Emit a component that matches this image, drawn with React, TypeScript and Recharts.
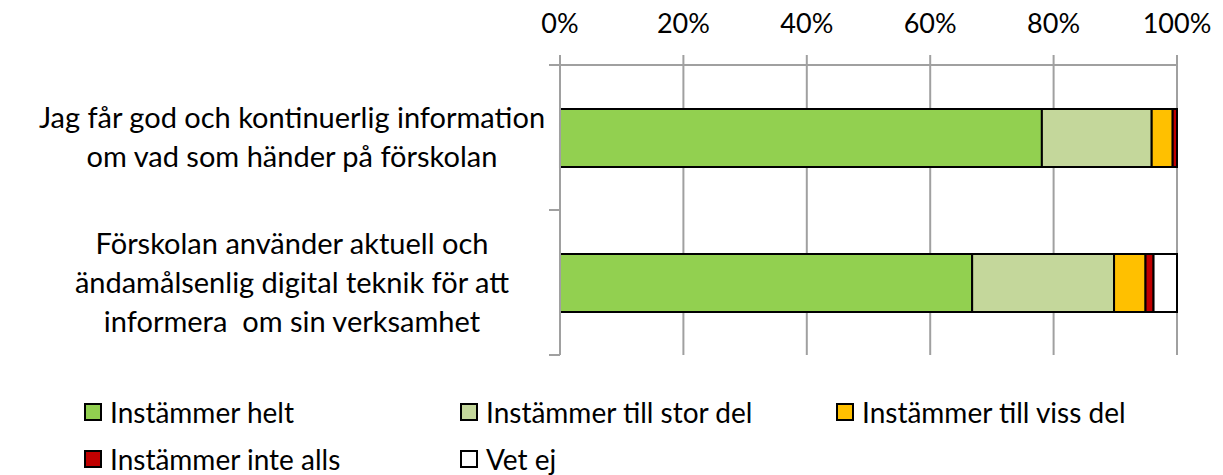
import { BarChart, Bar, XAxis, YAxis, CartesianGrid } from "recharts"

const categories = [
  "Jag får god och kontinuerlig information om vad som händer på förskolan",
  "Förskolan använder aktuell och ändamålsenlig digital teknik för att informera  om sin verksamhet",
]
// line breaks as in the picture
const categoryLines = [
  ["Jag får god och kontinuerlig information", "om vad som händer på förskolan"],
  ["Förskolan använder aktuell och", "ändamålsenlig digital teknik för att", "informera  om sin verksamhet"],
]

const seriesNames = [
  "Instämmer helt",
  "Instämmer till stor del",
  "Instämmer till viss del",
  "Instämmer inte alls",
  "Vet ej",
]
const helt = [78.1, 66.8]
const storDel = [17.8, 23.0]
const vissDel = [3.4, 5.1]
const inteAlls = [0.7, 1.3]
const vetEj = [0, 3.8]

const xTicks = [0, 20, 40, 60, 80, 100]

const colors = ["#92D050", "#C4D79B", "#FFC000", "#C00000", "#FFFFFF"]
const keys = ["helt", "storDel", "vissDel", "inteAlls", "vetEj"]

const data = categories.map((name, i) => ({
  name,
  helt: helt[i],
  storDel: storDel[i],
  vissDel: vissDel[i],
  inteAlls: inteAlls[i],
  vetEj: vetEj[i],
}))

const FONT = "Lato, 'Open Sans', sans-serif"
const BAND = 145

function CategoryTick(props: any) {
  const { y, payload, index } = props
  const lines = categoryLines[categories.indexOf(payload.value)] || [payload.value]
  const lh = 39
  const startY = y - ((lines.length - 1) * lh) / 2
  return (
    <g>
      <line x1={549} x2={560} y1={y - BAND / 2} y2={y - BAND / 2} stroke="#A0A0A0" strokeWidth={2} />
      {index === categories.length - 1 && (
        <line x1={549} x2={560} y1={y + BAND / 2} y2={y + BAND / 2} stroke="#A0A0A0" strokeWidth={2} />
      )}
      <text textAnchor="middle" fontFamily={FONT} fontSize={29} fill="#000" style={{ whiteSpace: "pre" }}>
        {lines.map((l, i) => (
          <tspan key={i} x={292} y={startY + i * lh} dy="0.35em">
            {l}
          </tspan>
        ))}
      </text>
    </g>
  )
}

function LegendBox() {
  const cols = [84, 460, 836]
  const rows = [412, 459]
  return (
    <div style={{ position: "absolute", left: 0, top: 0, width: 1223, height: 475, pointerEvents: "none" }}>
      {seriesNames.map((s, i) => {
        const left = cols[i % 3]
        const top = rows[Math.floor(i / 3)]
        return (
          <div
            key={s}
            style={{
              position: "absolute",
              left,
              top: top - 15,
              height: 30,
              lineHeight: "30px",
              display: "flex",
              alignItems: "center",
              fontFamily: FONT,
              fontSize: 28,
              whiteSpace: "nowrap",
            }}
          >
            <span
              style={{
                display: "inline-block",
                width: 14,
                height: 14,
                background: colors[i],
                border: "2px solid #000",
                marginRight: 8,
              }}
            />
            {s}
          </div>
        )
      })}
    </div>
  )
}

export default function App() {
  return (
    <div style={{ position: "absolute", left: 0, top: 0, width: 1223, height: 475, background: "#fff" }}>
      <BarChart
        width={1223}
        height={375}
        data={data}
        layout="vertical"
        margin={{ top: 10, right: 46, bottom: 20, left: 0 }}
        barSize={58}
      >
        <CartesianGrid horizontal={false} stroke="#A0A0A0" strokeWidth={2} />
        <XAxis
          type="number"
          orientation="top"
          domain={[0, 100]}
          ticks={xTicks}
          tickFormatter={(v) => `${v}%`}
          height={55}
          tickSize={10}
          tickMargin={22}
          axisLine={{ stroke: "#A0A0A0", strokeWidth: 2 }}
          tickLine={{ stroke: "#A0A0A0", strokeWidth: 2 }}
          tick={{ fontFamily: FONT, fontSize: 27, fill: "#000" }}
          interval={0}
        />
        <YAxis
          type="category"
          dataKey="name"
          width={560}
          axisLine={{ stroke: "#A0A0A0", strokeWidth: 2 }}
          tickLine={false}
          tick={<CategoryTick />}
          interval={0}
        />
        {keys.map((k, i) => (
          <Bar
            key={k}
            dataKey={k}
            stackId="a"
            fill={colors[i]}
            stroke="#000"
            strokeWidth={2}
            isAnimationActive={false}
          />
        ))}
      </BarChart>
      <LegendBox />
    </div>
  )
}
